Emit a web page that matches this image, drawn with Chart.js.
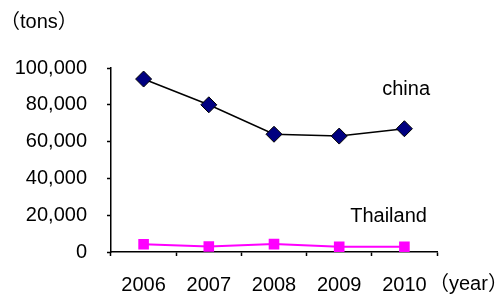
<!DOCTYPE html>
<html>
<head>
<meta charset="utf-8">
<script src="https://cdn.jsdelivr.net/npm/chart.js@4/dist/chart.umd.min.js"></script>
<style>
html,body{margin:0;padding:0;background:#fff;}
#wrap{width:501px;height:296px;position:relative;}
</style>
</head>
<body>
<div id="wrap"><canvas id="c" width="501" height="296"></canvas></div>
<script>
const years = ['2006', '2007', '2008', '2009', '2010'];
const chinaValues = [94000, 80000, 64000, 63000, 67000];
const thailandValues = [4200, 3000, 4300, 2800, 2800];
const yTicks = [0, 20000, 40000, 60000, 80000, 100000];
const seriesNames = ['china', 'Thailand'];
const yUnit = '（tons）';
const xUnit = '（year）';

const FONT = "'Liberation Sans', Arial, 'Noto Sans CJK JP', sans-serif";

const labelsPlugin = {
  id: 'labelsPlugin',
  afterDraw(chart) {
    const ctx = chart.ctx;
    const a = chart.chartArea;
    const x = chart.scales.x, y = chart.scales.y;
    ctx.save();
    ctx.fillStyle = '#000';
    ctx.font = '20px ' + FONT;
    ctx.textBaseline = 'middle';
    ctx.textAlign = 'left';
    ctx.fillText(yUnit, 0, 22);
    ctx.fillText(xUnit, a.right - 8, 284);
    ctx.fillText(seriesNames[0], x.getPixelForValue(3) + 43, y.getPixelForValue(88500));
    ctx.fillText(seriesNames[1], x.getPixelForValue(3) + 11, y.getPixelForValue(19500));
    ctx.restore();
  }
};

new Chart(document.getElementById('c'), {
  type: 'line',
  data: {
    labels: years,
    datasets: [
      {
        label: seriesNames[0],
        data: chinaValues,
        borderColor: '#000000',
        borderWidth: 1.5,
        pointStyle: 'rectRot',
        pointRadius: 8,
        pointHoverRadius: 8,
        pointBackgroundColor: '#000080',
        pointBorderColor: '#000000',
        pointBorderWidth: 1,
        tension: 0
      },
      {
        label: seriesNames[1],
        data: thailandValues,
        borderColor: '#ff00ff',
        borderWidth: 2,
        pointStyle: 'rect',
        pointRadius: 7.5,
        pointHoverRadius: 7.5,
        pointBackgroundColor: '#ff00ff',
        pointBorderColor: '#ff00ff',
        pointBorderWidth: 0,
        tension: 0
      }
    ]
  },
  options: {
    responsive: false,
    animation: false,
    events: [],
    layout: { padding: { top: 68, right: 64, left: 0, bottom: 0 } },
    plugins: { legend: { display: false }, tooltip: { enabled: false }, title: { display: false } },
    scales: {
      x: {
        offset: true,
        grid: { display: true, drawOnChartArea: false, offset: true, color: '#000', tickLength: 4, tickWidth: 1.5 },
        border: { display: true, color: '#000', width: 1.5 },
        ticks: { color: '#000', font: { family: FONT, size: 20 }, padding: 17, maxRotation: 0 },
        afterFit: s => { s.height = 296 - 68 - 184; }
      },
      y: {
        min: 0,
        max: 100000,
        afterBuildTicks: s => { s.ticks = yTicks.map(v => ({ value: v })); },
        grid: { display: true, drawOnChartArea: false, color: '#000', tickLength: 4, tickWidth: 1.5 },
        border: { display: true, color: '#000', width: 1.5 },
        ticks: {
          color: '#000',
          font: { family: FONT, size: 20 },
          padding: 20,
          callback: v => Number(v).toLocaleString('en-US')
        },
        afterFit: s => { s.width = 111; }
      }
    }
  },
  plugins: [labelsPlugin]
});
</script>
</body>
</html>
